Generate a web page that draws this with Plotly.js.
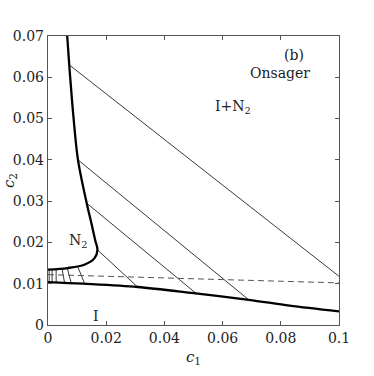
<!DOCTYPE html>
<html>
<head>
<meta charset="utf-8">
<script src="https://cdn.plot.ly/plotly-3.0.1.min.js"></script>
<style>
  body { margin: 0; background: #fff; }
  #chart { width: 374px; height: 376px; }
</style>
</head>
<body>
<div id="chart"></div>
<script>
// Phase boundary of the nematic N2 phase (thick curve)
const n2C1 = [0.0066, 0.0073, 0.0088, 0.0103, 0.0133, 0.0149, 0.0162, 0.0170, 0.0160, 0.0125, 0.0067, 0.0000];
const n2C2 = [0.0700, 0.0630, 0.0500, 0.0400, 0.0295, 0.0247, 0.0206, 0.0182, 0.0162, 0.0146, 0.0138, 0.0134];

// Phase boundary of the isotropic phase (thick lower line)
const isoC1 = [0.0000, 0.0120, 0.0308, 0.0500, 0.0690, 0.0830, 0.1000];
const isoC2 = [0.0104, 0.0100, 0.0092, 0.0077, 0.0061, 0.0047, 0.0033];

// Dashed line
const dashC1 = [0.0, 0.1];
const dashC2 = [0.0122, 0.0102];

// Tie lines: N2 end -> I end
const tieN2c1 = [0.0073, 0.0103, 0.0133, 0.0170, 0.0103, 0.0066, 0.0048, 0.0028, 0.0014, 0.0004];
const tieN2c2 = [0.0630, 0.0400, 0.0295, 0.0182, 0.0140, 0.0138, 0.0137, 0.0136, 0.0135, 0.0134];
const tieIc1  = [0.1000, 0.0690, 0.0510, 0.0308, 0.0126, 0.0080, 0.0057, 0.0028, 0.0014, 0.0004];
const tieIc2  = [0.0118, 0.0061, 0.0076, 0.0092, 0.0100, 0.0101, 0.0102, 0.0103, 0.0104, 0.0104];

const xTicks = [0, 0.02, 0.04, 0.06, 0.08, 0.1];
const xTickText = ['0', '0.02', '0.04', '0.06', '0.08', '0.1'];
const yTicks = [0, 0.01, 0.02, 0.03, 0.04, 0.05, 0.06, 0.07];
const yTickText = ['0', '0.01', '0.02', '0.03', '0.04', '0.05', '0.06', '0.07'];

const serif = 'DejaVu Serif, serif';

const traces = [];

// tie lines
for (let i = 0; i < tieN2c1.length; i++) {
    traces.push({
        x: [tieN2c1[i], tieIc1[i]],
        y: [tieN2c2[i], tieIc2[i]],
        type: 'scatter',
        mode: 'lines',
        line: { color: '#222', width: 0.9 },
        hoverinfo: 'skip',
        showlegend: false
    });
}

traces.push({
    x: dashC1, y: dashC2,
    type: 'scatter', mode: 'lines',
    line: { color: '#555', width: 1, dash: '6px,4px' },
    showlegend: false
});

traces.push({
    x: n2C1, y: n2C2,
    type: 'scatter', mode: 'lines',
    line: { color: '#000', width: 2.3, shape: 'spline', smoothing: 0.9 },
    showlegend: false
});

traces.push({
    x: isoC1, y: isoC2,
    type: 'scatter', mode: 'lines',
    line: { color: '#000', width: 2.3, shape: 'spline', smoothing: 0.9 },
    showlegend: false
});

const axisStyle = {
    showgrid: false,
    zeroline: false,
    showline: true,
    linecolor: '#555',
    linewidth: 1.2,
    mirror: 'ticks',
    ticks: 'inside',
    ticklen: 4,
    tickcolor: '#555',
    tickfont: { family: serif, size: 14, color: '#222' }
};

const layout = {
    width: 374,
    height: 376,
    margin: { l: 48, r: 35, t: 36, b: 51 },
    paper_bgcolor: '#fff',
    plot_bgcolor: '#fff',
    showlegend: false,
    xaxis: Object.assign({}, axisStyle, {
        range: [0, 0.1],
        tickvals: xTicks,
        ticktext: xTickText,
        title: { text: '<i>c</i><sub>1</sub>', font: { family: serif, size: 15, color: '#222' }, standoff: 6 }
    }),
    yaxis: Object.assign({}, axisStyle, {
        range: [0, 0.07],
        tickvals: yTicks,
        ticktext: yTickText,
        title: { text: '<i>c</i><sub>2</sub>', font: { family: serif, size: 15, color: '#222' }, standoff: 8 }
    }),
    annotations: [
        { x: 0.0844, y: 0.0653, text: '(b)' },
        { x: 0.0796, y: 0.0611, text: 'Onsager' },
        { x: 0.0637, y: 0.0528, text: 'I+N<sub>2</sub>' },
        { x: 0.0103, y: 0.0203, text: 'N<sub>2</sub>' },
        { x: 0.0166, y: 0.0022, text: 'I' }
    ].map(a => Object.assign({
        xref: 'x', yref: 'y', showarrow: false,
        font: { family: serif, size: 14, color: '#222' }
    }, a))
};

Plotly.newPlot('chart', traces, layout, { displayModeBar: false, staticPlot: true });
</script>
</body>
</html>
